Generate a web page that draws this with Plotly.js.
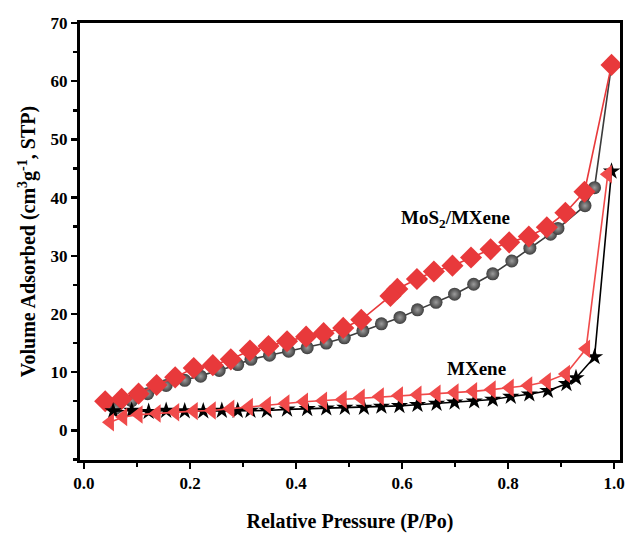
<!DOCTYPE html>
<html>
<head>
<meta charset="utf-8">
<script src="https://cdn.plot.ly/plotly-3.0.1.min.js"></script>
<style>html,body{margin:0;padding:0;background:#fff;}#chart{width:630px;height:536px;}</style>
</head>
<body>
<div id="chart"></div>
<script>
// MoS2/MXene adsorption (grey spheres)
const mosAdsX = [0.06, 0.09, 0.12, 0.155, 0.19, 0.22, 0.255, 0.29, 0.315, 0.35, 0.386, 0.421, 0.457, 0.491, 0.526, 0.561, 0.596, 0.629, 0.664, 0.699, 0.735, 0.771, 0.807, 0.841, 0.88, 0.894, 0.945, 0.963, 0.995];
const mosAdsY = [3.8, 5.1, 6.3, 7.7, 8.6, 9.3, 10.3, 11.3, 12.2, 12.9, 13.6, 14.2, 15.0, 15.9, 17.1, 18.3, 19.4, 20.7, 22.0, 23.4, 25.1, 26.9, 29.1, 31.3, 33.7, 34.7, 38.6, 41.7, 62.8];
// MoS2/MXene desorption (red diamonds)
const mosDesX = [0.995, 0.944, 0.908, 0.873, 0.839, 0.802, 0.767, 0.730, 0.695, 0.660, 0.628, 0.591, 0.578, 0.523, 0.489, 0.452, 0.419, 0.383, 0.348, 0.313, 0.277, 0.243, 0.207, 0.172, 0.137, 0.103, 0.071, 0.040];
const mosDesY = [62.8, 41.0, 37.4, 34.9, 33.3, 32.3, 31.1, 29.7, 28.3, 27.3, 26.0, 24.3, 23.1, 19.0, 17.6, 16.7, 16.1, 15.3, 14.5, 13.7, 12.2, 11.2, 10.7, 9.1, 7.8, 6.3, 5.4, 5.0];
// MXene adsorption (black stars)
const mxAdsX = [0.055, 0.09, 0.122, 0.155, 0.19, 0.225, 0.26, 0.29, 0.314, 0.345, 0.383, 0.421, 0.457, 0.492, 0.528, 0.561, 0.595, 0.629, 0.665, 0.699, 0.736, 0.771, 0.805, 0.840, 0.875, 0.910, 0.928, 0.963, 0.995];
const mxAdsY = [3.3, 3.4, 3.2, 3.4, 3.3, 3.3, 3.4, 3.4, 3.4, 3.4, 3.6, 3.7, 3.8, 3.9, 3.9, 4.1, 4.2, 4.4, 4.6, 4.8, 5.0, 5.3, 5.8, 6.2, 6.8, 8.0, 9.0, 12.6, 44.5];
// MXene desorption (red left triangles)
const mxDesX = [0.988, 0.947, 0.909, 0.873, 0.838, 0.803, 0.769, 0.734, 0.699, 0.665, 0.629, 0.594, 0.558, 0.522, 0.488, 0.451, 0.415, 0.380, 0.345, 0.311, 0.276, 0.241, 0.207, 0.172, 0.137, 0.103, 0.074, 0.049];
const mxDesY = [44.0, 14.0, 9.7, 8.4, 7.7, 7.3, 7.0, 6.7, 6.5, 6.3, 6.1, 6.0, 5.8, 5.6, 5.3, 5.1, 4.9, 4.6, 4.3, 4.0, 3.7, 3.4, 3.3, 3.1, 2.9, 2.7, 2.3, 1.4];

const labelMoS = "MoS<sub>2</sub>/MXene";
const labelMX = "MXene";
const xTitle = "Relative Pressure (P/Po)";
const yTitle = "Volume Adsorbed (cm<sup>3</sup>g<sup>-1</sup>, STP)";

const serif = "Liberation Serif, Times New Roman, serif";

const traces = [
  {x: mosAdsX, y: mosAdsY, mode: 'lines+markers', line: {color: '#3c3c3c', width: 1.6},
   marker: {symbol: 'circle', size: 13, color: '#3e3e3e', gradient: {type: 'radial', color: '#9c9c9c'}, line: {width: 0}}},
  {x: mosDesX, y: mosDesY, mode: 'lines+markers', line: {color: '#e8393b', width: 1.6},
   marker: {symbol: 'diamond', size: 17, color: '#e8393b', line: {width: 0}}},
  {x: mxAdsX, y: mxAdsY, mode: 'lines+markers', line: {color: '#000000', width: 1.6},
   marker: {symbol: 'star', size: 13, color: '#000000', line: {width: 0}}},
  {x: mxDesX, y: mxDesY, mode: 'lines+markers', line: {color: '#f04a4a', width: 1.6},
   marker: {symbol: 'triangle-left', size: 16, color: '#f04a4a', line: {width: 0}}}
];

const layout = {
  width: 630, height: 536,
  margin: {l: 80, r: 10, t: 23, b: 76},
  paper_bgcolor: '#fff', plot_bgcolor: '#fff',
  showlegend: false,
  font: {family: serif, color: '#000'},
  xaxis: {
    range: [-0.0075, 1.011], showgrid: false, zeroline: false,
    showline: true, linewidth: 3, linecolor: '#000', mirror: true,
    ticks: 'outside', ticklen: 6, tickwidth: 2.5, tickcolor: '#000',
    tickvals: [0, 0.2, 0.4, 0.6, 0.8, 1.0], tickformat: '.1f',
    minor: {dtick: 0.1, tick0: 0, ticks: 'outside', ticklen: 4, tickwidth: 2.5, tickcolor: '#000'},
    tickfont: {family: serif, size: 17, weight: 'bold', color: '#000'},
    title: {text: '<b>' + xTitle + '</b>', font: {family: serif, size: 20, color: '#000'}, standoff: 22}
  },
  yaxis: {
    range: [-5.1, 70], showgrid: false, zeroline: false,
    showline: true, linewidth: 3, linecolor: '#000', mirror: true,
    ticks: 'outside', ticklen: 6, tickwidth: 2.5, tickcolor: '#000',
    dtick: 10, tick0: 0,
    minor: {dtick: 5, tick0: 0, ticks: 'outside', ticklen: 4, tickwidth: 2.5, tickcolor: '#000'},
    tickfont: {family: serif, size: 17, weight: 'bold', color: '#000'},
    title: {text: '<b>' + yTitle + '</b>', font: {family: serif, size: 20, color: '#000'}, standoff: 10}
  },
  annotations: [
    {x: 0.701, y: 36.3, xref: 'x', yref: 'y', text: '<b>' + labelMoS + '</b>', showarrow: false,
     font: {family: serif, size: 19, color: '#000'}},
    {x: 0.741, y: 10.6, xref: 'x', yref: 'y', text: '<b>' + labelMX + '</b>', showarrow: false,
     font: {family: serif, size: 19, color: '#000'}}
  ]
};

Plotly.newPlot('chart', traces, layout, {displayModeBar: false, staticPlot: true});
</script>
</body>
</html>
